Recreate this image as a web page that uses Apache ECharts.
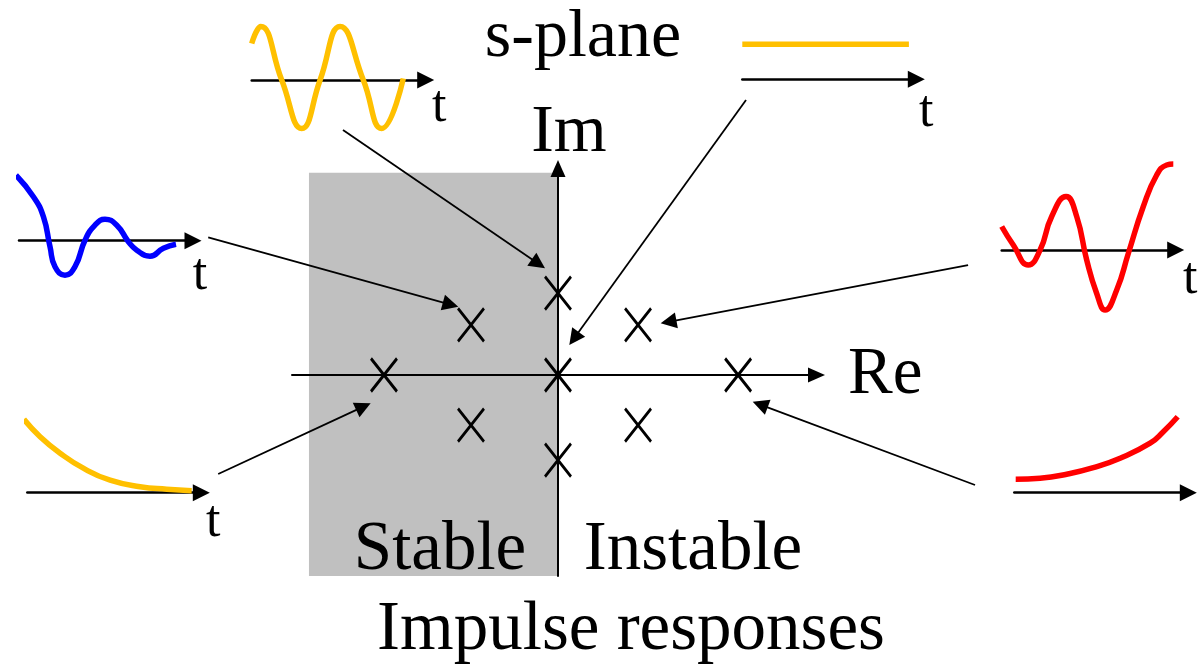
<!DOCTYPE html>
<html>
<head>
<meta charset="utf-8">
<script src="https://cdn.jsdelivr.net/npm/echarts@6/dist/echarts.min.js"></script>
<style>html,body{margin:0;padding:0;background:#fff}#c{width:1198px;height:672px}</style>
</head>
<body>
<div id="c"></div>
<script>
// ---------- DATA ----------
// Poles in the s-plane: [Re, Im]
const stablePoles   = [[-2, 0], [-1, 0.6], [-1, -0.6]];
const marginalPoles = [[0, 0.98], [0, 0], [0, -1.02]];
const unstablePoles = [[0.92, 0.6], [0.92, -0.6], [2.07, 0]];

// Impulse responses: [t, h(t)]
const respOscillating = [[0, 0.73], [0.45, 1.07], [1.5, 0], [2.5, -0.97], [3.42, 0], [4.42, 1.07], [5.58, 0], [6.5, -0.97], [7.58, 0.03]];
const respConstant    = [[0, 0.7], [8.33, 0.7]];
const respDampedOsc   = [[-0.15, 1.31], [0.72, 0.88], [1.22, 0.48], [1.55, -0.12], [1.8, -0.52], [2.3, -0.69], [2.8, -0.52], [3.3, 0.01], [3.8, 0.31], [4.3, 0.43], [4.89, 0.31], [5.47, -0.02], [5.89, -0.19], [6.55, -0.31], [7.22, -0.15], [7.85, -0.07]];
const respGrowingOsc  = [[0, 0.47], [0.58, 0.1], [1.33, -0.3], [1.92, 0], [2.5, 0.67], [3.22, 1.07], [3.75, 0.67], [4.25, -0.2], [4.75, -0.87], [5.17, -1.2], [5.75, -0.8], [6.33, -0.07], [7.08, 0.87], [7.75, 1.5], [8.25, 1.7], [8.58, 1.72]];
const respDecaying    = [[-0.17, 1.47], [0.64, 1.12], [1.64, 0.79], [2.8, 0.49], [4.14, 0.25], [5.64, 0.12], [6.97, 0.07], [8.22, 0.04]];
const respGrowing     = [[0.07, 0.27], [1.29, 0.29], [2.62, 0.37], [3.95, 0.5], [5.29, 0.69], [6.79, 0.99], [7.45, 1.22], [8.17, 1.52]];

// Arrows linking each response to its pole: [from, to] in s-plane units
const arrowLinks = [
  [[-2.471, 2.934], [-0.149, 1.278]],
  [[2.161, 3.293], [0.130, 0.359]],
  [[-4.020, 1.649], [-1.146, 0.818]],
  [[4.713, 1.317], [1.180, 0.619]],
  [[-3.905, -1.186], [-2.153, -0.339]],
  [[4.793, -1.317], [2.238, -0.320]]
];

// Stable region (left half plane, shaded)
const stableRegion = [[-2.862, 2.423], [0, -2.407]];

const txtPlane = 's-plane', txtRe = 'Re', txtIm = 'Im', txtStable = 'Stable',
      txtUnstable = 'Instable', txtCaption = 'Impulse responses', txtTime = 't';

// ---------- LAYOUT / STYLE ----------
const FONT = '"Liberation Serif", "Times New Roman", serif';
const YEL = '#FFC000', BLU = '#0000FF', RED = '#FF0000';
const main = { left: 292, top: 168.5, width: 524.5, height: 407.5, xmin: -3.057, xmax: 2.971, ymin: -2.407, ymax: 2.473 };
const insets = [
  { data: respOscillating, color: YEL, left: 251.7, axisY: 80,    ymin: -1.2, ymax: 1.2, gap: 13.5, pad: 1 },
  { data: respConstant,    color: YEL, left: 742.3, axisY: 79.3,  ymin: -0.3, ymax: 1.0, gap: 10,   pad: 7 },
  { data: respDampedOsc,   color: BLU, left: 19,    axisY: 240.7, ymin: -1.0, ymax: 1.5, gap: 7,    pad: 9 },
  { data: respGrowingOsc,  color: RED, left: 1001.7,axisY: 250,   ymin: -1.3, ymax: 1.8, gap: 14.5, pad: 3 },
  { data: respDecaying,    color: YEL, left: 27.3,  axisY: 492.7, ymin: -0.2, ymax: 1.6, gap: 12,   pad: 4 },
  { data: respGrowing,     color: RED, left: 1014.3,axisY: 492.7, ymin: -0.2, ymax: 1.6, gap: 19,   pad: 4 }
];
const INSET_W = 174, INSET_T = 8.7, PX_PER_AMP = 50;

const grids = [{ left: main.left, top: main.top, width: main.width, height: main.height, outerBoundsMode: 'none', containLabel: false }];
const xAxes = [{
  type: 'value', gridIndex: 0, min: main.xmin, max: main.xmax, z: 5,
  axisLine: { onZero: true, symbol: ['none', 'triangle'], symbolSize: [15, 17], lineStyle: { color: '#000', width: 2 } },
  axisTick: { show: false }, axisLabel: { show: false }, splitLine: { show: false },
  name: txtRe, nameLocation: 'end', nameGap: 31.5,
  nameTextStyle: { fontFamily: FONT, fontSize: 67, color: '#000', padding: [15, 0, 0, 0] }
}];
const yAxes = [{
  type: 'value', gridIndex: 0, min: main.ymin, max: main.ymax, z: 5,
  axisLine: { onZero: true, symbol: ['none', 'triangle'], symbolSize: [15, 17], lineStyle: { color: '#000', width: 2 } },
  axisTick: { show: false }, axisLabel: { show: false }, splitLine: { show: false },
  name: txtIm, nameLocation: 'end', nameGap: 1,
  nameTextStyle: { fontFamily: FONT, fontSize: 68, color: '#000', padding: [0, 0, 0, 22] }
}];

const series = [];
insets.forEach((s, i) => {
  const gi = i + 1;
  grids.push({ left: s.left, top: s.axisY - PX_PER_AMP * s.ymax, width: INSET_W, height: PX_PER_AMP * (s.ymax - s.ymin), outerBoundsMode: 'none', containLabel: false });
  xAxes.push({
    type: 'value', gridIndex: gi, min: 0, max: INSET_T,
    axisLine: { onZero: true, symbol: ['none', 'triangle'], symbolSize: [17, 17], lineStyle: { color: '#000', width: 2.5 } },
    axisTick: { show: false }, axisLabel: { show: false }, splitLine: { show: false },
    name: txtTime, nameLocation: 'end', nameGap: s.gap, nameMoveOverlap: false,
    nameTextStyle: { fontFamily: FONT, fontSize: 52, color: '#000', align: 'center', verticalAlign: 'top', padding: [s.pad, 0, 0, 0] }
  });
  yAxes.push({ type: 'value', gridIndex: gi, min: s.ymin, max: s.ymax, show: false });
  series.push({
    type: 'line', xAxisIndex: gi, yAxisIndex: gi, data: s.data, smooth: true, showSymbol: false,
    clip: false, silent: true, z: 3,
    lineStyle: { color: s.color, width: 5.5, cap: 'butt' }
  });
});

// poles + stable region
series.push({
  type: 'scatter', xAxisIndex: 0, yAxisIndex: 0, z: 3, silent: true,
  data: stablePoles.concat(marginalPoles, unstablePoles),
  symbol: 'path://M0,0L26,33M26,0L0,33', symbolSize: [26, 33],
  itemStyle: { color: 'transparent', borderColor: '#000', borderWidth: 3, opacity: 1 },
  markArea: {
    silent: true, z: 1,
    itemStyle: { color: '#C0C0C0', opacity: 1 },
    data: [[{ xAxis: stableRegion[0][0], yAxis: stableRegion[0][1] }, { xAxis: stableRegion[1][0], yAxis: stableRegion[1][1] }]]
  }
});

// arrows (shorten so the arrow tip lands on the read point)
const pxX = main.width / (main.xmax - main.xmin), pxY = main.height / (main.ymax - main.ymin);
const HEAD = 16;
const arrowCoords = arrowLinks.map(([a, b]) => {
  const dx = (b[0] - a[0]) * pxX, dy = (b[1] - a[1]) * pxY;
  const L = Math.hypot(dx, dy), f = (L - HEAD / 2) / L;
  return { coords: [a, [a[0] + (b[0] - a[0]) * f, a[1] + (b[1] - a[1]) * f]] };
});
series.push({
  type: 'lines', coordinateSystem: 'cartesian2d', xAxisIndex: 0, yAxisIndex: 0,
  clip: false, silent: true, z: 4,
  symbol: ['none', 'triangle'], symbolSize: HEAD,
  lineStyle: { color: '#000', width: 1.8, opacity: 1, curveness: 0 },
  data: arrowCoords
});

function txt(text, x, y, size) {
  return {
    type: 'text', x: x, y: y, z: 20, silent: true,
    style: { text: text, font: size + 'px ' + FONT, fill: '#000', align: 'center', verticalAlign: 'middle', textAlign: 'center', textVerticalAlign: 'middle' }
  };
}

const chart = echarts.init(document.getElementById('c'), null, { renderer: 'canvas' });
chart.setOption({
  animation: false,
  backgroundColor: '#fff',
  grid: grids, xAxis: xAxes, yAxis: yAxes, series: series,
  graphic: { elements: [
    txt(txtPlane, 583, 38, 68),
    txt(txtStable, 440, 550.7, 69),
    txt(txtUnstable, 693, 550.7, 69),
    txt(txtCaption, 631, 631, 69)
  ] }
});
</script>
</body>
</html>
